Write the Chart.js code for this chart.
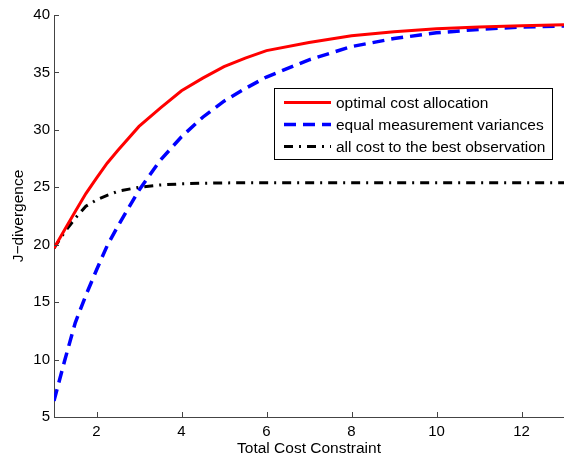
<!DOCTYPE html>
<html>
<head>
<meta charset="utf-8">
<script src="https://cdn.jsdelivr.net/npm/chart.js@4/dist/chart.umd.min.js"></script>
<style>
  html, body { margin: 0; padding: 0; background: #fff; }
  #wrap { width: 564px; height: 457px; position: relative; }
</style>
</head>
<body>
<div id="wrap"><canvas id="chart"></canvas></div>
<script>
// Data
const costs = [1, 1.25, 1.5, 1.75, 2, 2.25, 2.5, 3, 3.5, 4, 4.5, 5, 5.5, 6, 7, 8, 9, 10, 11, 12, 13];
const optimal = [19.7, 21.3, 22.9, 24.45, 25.8, 27.1, 28.2, 30.3, 31.9, 33.4, 34.5, 35.5, 36.25, 36.9, 37.6, 38.2, 38.55, 38.8, 38.95, 39.07, 39.15];
const equalVar = [6.4, 9.9, 13.2, 15.6, 17.8, 19.9, 21.6, 24.75, 27.35, 29.4, 31.1, 32.5, 33.6, 34.6, 36.1, 37.25, 37.95, 38.45, 38.75, 38.95, 39.05];
const bestObs = [19.7, 21.1, 22.3, 23.35, 23.9, 24.3, 24.65, 25.0, 25.2, 25.3, 25.35, 25.38, 25.4, 25.4, 25.4, 25.4, 25.4, 25.4, 25.4, 25.4, 25.4];

const seriesNames = ["optimal cost allocation", "equal measurement variances", "all cost to the best observation"];
const xTicks = [2, 4, 6, 8, 10, 12];
const yTicks = [5, 10, 15, 20, 25, 30, 35, 40];

const FONT = "'Liberation Sans', Arial, Helvetica, sans-serif";
const AXIS_COLOR = "#444";

const toPoints = (ys) => costs.map((x, i) => ({ x, y: ys[i] }));

// inward tick marks like MATLAB
const innerTicks = {
  id: "innerTicks",
  afterDraw(chart) {
    const { ctx, chartArea: a, scales } = chart;
    ctx.save();
    ctx.strokeStyle = AXIS_COLOR;
    ctx.lineWidth = 1;
    ctx.beginPath();
    xTicks.forEach((v) => {
      const px = Math.round(scales.x.getPixelForValue(v)) + 0.5;
      ctx.moveTo(px, a.bottom);
      ctx.lineTo(px, a.bottom - 5);
    });
    yTicks.forEach((v) => {
      const py = Math.round(scales.y.getPixelForValue(v)) + 0.5;
      ctx.moveTo(a.left, py);
      ctx.lineTo(a.left + 5, py);
    });
    ctx.stroke();
    ctx.restore();
  },
};

// boxed legend inside the plot
const boxLegend = {
  id: "boxLegend",
  afterDatasetsDraw(chart) {
    const { ctx } = chart;
    const box = { x: 274.5, y: 88.5, w: 278, h: 71 };
    ctx.save();
    ctx.fillStyle = "#fff";
    ctx.fillRect(box.x, box.y, box.w, box.h);
    ctx.strokeStyle = "#000";
    ctx.lineWidth = 1;
    ctx.strokeRect(box.x, box.y, box.w, box.h);
    ctx.font = `15.5px ${FONT}`;
    ctx.textBaseline = "middle";
    chart.data.datasets.forEach((ds, i) => {
      const y = 102.5 + i * 22;
      ctx.strokeStyle = ds.borderColor;
      ctx.lineWidth = ds.borderWidth;
      ctx.setLineDash(ds.borderDash || []);
      ctx.beginPath();
      ctx.moveTo(284, y);
      ctx.lineTo(331, y);
      ctx.stroke();
      ctx.setLineDash([]);
      ctx.fillStyle = "#000";
      ctx.fillText(ds.label, 336, y + 1);
    });
    ctx.restore();
  },
};

new Chart(document.getElementById("chart"), {
  type: "line",
  data: {
    datasets: [
      { label: seriesNames[0], data: toPoints(optimal), borderColor: "#ff0000", borderWidth: 3, pointRadius: 0, tension: 0 },
      { label: seriesNames[1], data: toPoints(equalVar), borderColor: "#0000ff", borderWidth: 3.5, borderDash: [12, 7], pointRadius: 0, tension: 0 },
      { label: seriesNames[2], data: toPoints(bestObs), borderColor: "#000000", borderWidth: 3, borderDash: [9, 6, 2, 6], pointRadius: 0, tension: 0 },
    ],
  },
  options: {
    responsive: true,
    maintainAspectRatio: false,
    animation: false,
    layout: { padding: { top: 15, right: 0, left: 0, bottom: 0 } },
    plugins: { legend: { display: false }, tooltip: { enabled: false } },
    scales: {
      x: {
        type: "linear",
        min: 1,
        max: 13,
        afterBuildTicks: (s) => { s.ticks = xTicks.map((v) => ({ value: v })); },
        afterFit: (s) => { s.height = 40; },
        grid: { display: false, drawTicks: false },
        border: { display: true, color: AXIS_COLOR, width: 1 },
        ticks: { color: "#000", padding: 6, maxRotation: 0, font: { family: FONT, size: 15 } },
        title: { display: true, text: "Total Cost Constraint", color: "#000", padding: { top: 0, bottom: -1 }, font: { family: FONT, size: 15.5 } },
      },
      y: {
        type: "linear",
        min: 5,
        max: 40,
        afterBuildTicks: (s) => { s.ticks = yTicks.map((v) => ({ value: v })); },
        afterFit: (s) => { s.width = 54; },
        grid: { display: false, drawTicks: false },
        border: { display: true, color: AXIS_COLOR, width: 1 },
        ticks: { color: "#000", padding: 4, font: { family: FONT, size: 15 } },
        title: { display: true, text: "J\u2212divergence", color: "#000", padding: { top: 9, bottom: 0 }, font: { family: FONT, size: 15.5 } },
      },
    },
  },
  plugins: [innerTicks, boxLegend],
});
</script>
</body>
</html>
